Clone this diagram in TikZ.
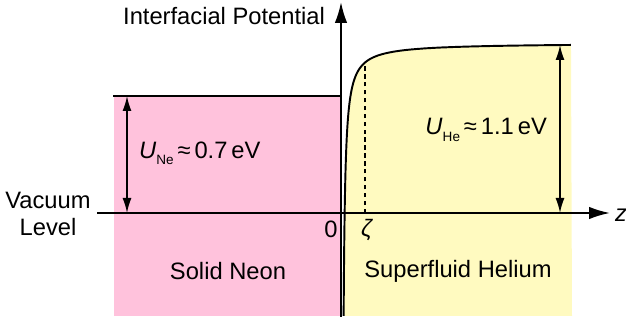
\documentclass[tikz,border=0pt]{standalone}
\usepackage{fontspec}
\setmainfont{Liberation Sans}
\usetikzlibrary{arrows.meta,positioning}
\definecolor{neonpink}{RGB}{255,194,220}
\definecolor{heyellow}{RGB}{255,250,192}
\newcommand{\subtxt}[1]{\raisebox{-0.5ex}{\fontsize{7.7}{8}\selectfont #1}}

\begin{document}
\begin{tikzpicture}[x=0.02cm,y=0.02cm,font=\fontsize{13.5}{15.5}\selectfont,
  axis/.style={line width=1.1pt,-{Latex[length=0.42cm,width=0.25cm]}},
  gap/.style={line width=0.9pt,{Latex[length=0.3cm,width=0.18cm]}-{Latex[length=0.3cm,width=0.18cm]}},
  lbl/.style={inner sep=1pt}]
  \useasboundingbox (0,0) rectangle (626,324);
  % filled regions
  \fill[neonpink] (114,8) rectangle (341,228);
  \fill[heyellow] (343.65,8) -- plot[domain=0.5:5.434,samples=150] ({342+exp(\x)},{281-450*exp(-\x)})
    -- (572,8) -- cycle;
  % axes
  \coordinate (vbot) at (341,7);
  \coordinate (vtop) at (341,322);
  \coordinate (hleft) at (97,111);
  \coordinate (hright) at (610,111);
  \draw[axis] (vbot) -- (vtop);
  \draw[axis] (hleft) -- (hright);
  % potentials
  \coordinate (neL) at (113,228);
  \coordinate (neR) at (341,228);
  \draw[line width=1.1pt] (neL) -- (neR);
  \draw[line width=1.1pt] plot[domain=0.5:5.434,samples=150] ({342+exp(\x)},{281-450*exp(-\x)});
  \coordinate (zeta0) at (365,111);
  \coordinate (zeta1) at (365,261);
  \draw[line width=0.8pt,dash pattern=on 2.5pt off 2pt] (zeta0) -- (zeta1);
  % barrier heights
  \coordinate (ne0) at (127,111);
  \coordinate (ne1) at (127,228);
  \draw[gap] (ne0) -- (ne1);
  \coordinate (he0) at (560,111);
  \coordinate (he1) at (560,279);
  \draw[gap] (he0) -- (he1);
  % labels
  \node[lbl,anchor=west] (uNe) at (137,171) {\textit{U}\subtxt{Ne}\,≈\,0.7\,eV};
  \node[lbl,anchor=east] (uHe) at (549,194) {\textit{U}\subtxt{He}\,≈\,1.1\,eV};
  \node[lbl,anchor=east] (ylab) at (327,308) {Interfacial Potential};
  \node[lbl] (zlab) at (621,109) {\textit{z}};
  \node[lbl,align=center] (vac) at (48,110) {Vacuum\\Level};
  \node[lbl] (zero) at (331,95) {0};
  \node[lbl] (zeta) at (367,94) {\textit{ζ}};
  \node[lbl] (neon) at (228,53) {Solid Neon};
  \node[lbl] (helium) at (458,53) {Superfluid Helium};
\end{tikzpicture}
\end{document}
